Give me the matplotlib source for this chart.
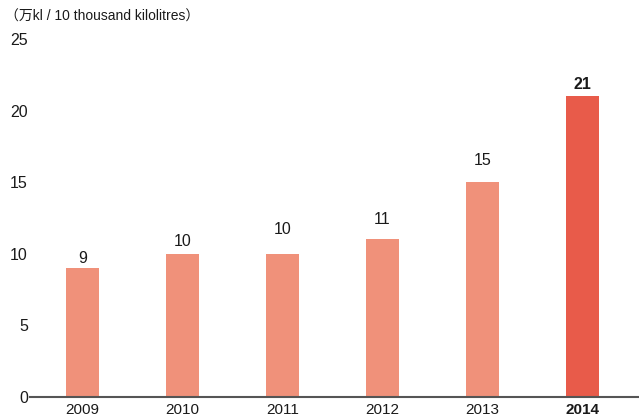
import matplotlib
matplotlib.use('Agg')
import matplotlib.pyplot as plt
import numpy as np

plt.rcParams['font.family'] = ['Liberation Sans', 'Noto Sans CJK JP', 'DejaVu Sans']

# Data
years = ['2009', '2010', '2011', '2012', '2013', '2014']
values = [9, 10, 10, 11, 15, 21]
yticks = [0, 5, 10, 15, 20, 25]
unit_label = '（万kl / 10 thousand kilolitres）'

# label offsets above bar tops, in pixels (as in the original)
label_offsets = [10, 12, 24, 20, 22, 12]

color_normal = '#F0917A'
color_last = '#E85B4A'

fig = plt.figure(figsize=(6.39, 4.17), dpi=100)
ax = fig.add_axes([30 / 639, 1 - 397 / 417, 1 - 30 / 639, (397 - 39) / 417])

x = np.arange(len(years))
colors = [color_normal] * (len(years) - 1) + [color_last]
bars = ax.bar(x, values, width=0.33, color=colors, zorder=2)

for i, (rect, v) in enumerate(zip(bars, values)):
    last = i == len(values) - 1
    ax.annotate(str(v), xy=(rect.get_x() + rect.get_width() / 2, v),
                xytext=(0, label_offsets[i]), textcoords='offset pixels',
                ha='center', va='center', fontsize=11.5, color='#1a1a1a',
                fontweight='bold' if last else 'normal')

ax.set_xlim(-0.525, 5.565)
ax.set_ylim(0, 25)
ax.set_yticks(yticks)
ax.set_yticklabels([str(t) for t in yticks], fontsize=11.5, color='#1a1a1a')
ax.set_xticks(x)
ax.set_xticklabels(years, fontsize=11, color='#1a1a1a')
ax.get_xticklabels()[-1].set_fontweight('bold')
ax.tick_params(axis='both', length=0)
ax.tick_params(axis='y', pad=1.5)
ax.tick_params(axis='x', pad=4)

for s in ['top', 'right', 'left']:
    ax.spines[s].set_visible(False)
ax.spines['bottom'].set_color('#555555')
ax.spines['bottom'].set_linewidth(1.5)
ax.spines['bottom'].set_zorder(3)

fig.text(5 / 639, 1 - 17 / 417, unit_label, fontsize=10, color='#1a1a1a',
         ha='left', va='center')

fig.savefig('out.png', dpi=100)
